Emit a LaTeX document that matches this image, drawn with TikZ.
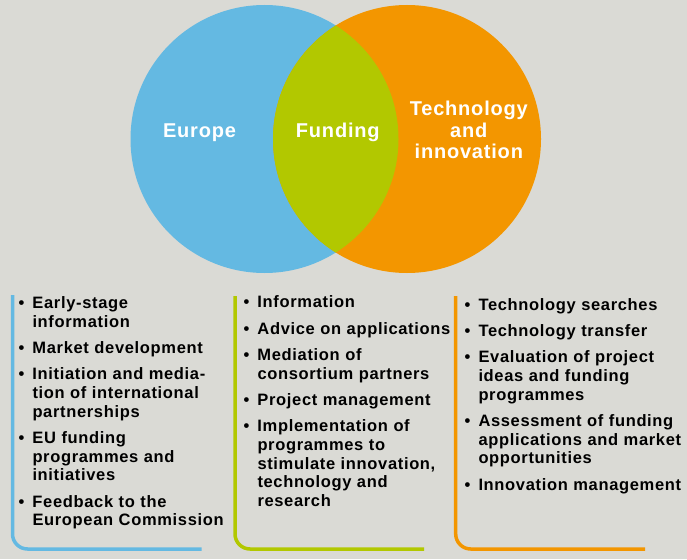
\documentclass[tikz,border=0pt]{standalone}
\usepackage{fontspec}
\setmainfont{Liberation Sans}
\usepackage{tikz}
\usetikzlibrary{positioning}

\definecolor{bgGrey}{RGB}{218,218,213}
\definecolor{euBlue}{RGB}{100,185,226}
\definecolor{techOrange}{RGB}{243,150,0}
\definecolor{fundGreen}{RGB}{178,200,0}

\newcommand{\venntitle}{\fontsize{20}{21.3}\selectfont\bfseries\addfontfeature{LetterSpace=4}}
\newcommand{\listfont}{\fontsize{16.5}{18.7}\selectfont\bfseries\addfontfeature{LetterSpace=4}\setlength{\parskip}{7.6pt}}
% first bullet starts the paragraph, the others close the previous one
\newcommand{\bstart}{\noindent\hangindent=14pt\hangafter=1\makebox[14pt][l]{\textbullet}}
\newcommand{\bitem}{\par\bstart}

\begin{document}
\begin{tikzpicture}[x=1pt,y=-1pt,
  vtitle/.style={text=white,font=\venntitle,inner sep=0pt},
  itemlist/.style={anchor=north west,inner sep=0pt,align=left,font=\listfont},
  bracket/.style={line width=3.5pt,rounded corners=15pt}]
\useasboundingbox (0,0) rectangle (687,559);
\fill[bgGrey] (0,0) rectangle (687,559);

% Venn circles
\node[circle,fill=euBlue,minimum size=268pt,inner sep=0pt] (europe) at (264.5,139) {};
\node[circle,fill=techOrange,minimum size=268pt,inner sep=0pt] (tech) at (407,139) {};
\begin{scope}
  \clip (europe.center) circle (134pt);
  \fill[fundGreen] (tech.center) circle (134pt);
\end{scope}

\node[vtitle,anchor=base] (europe_lbl) at (199.5,137.7) {Europe};
\node[vtitle,anchor=base] (fund_lbl) at (337.8,137.7) {Funding};
\node[vtitle,anchor=base,align=center] (tech_lbl) at (468.8,158.3) {Technology\\and\\innovation};

% lists
\node[itemlist,text width=215pt] (europe_list) at (18.3,295.2) {%
\bstart\strut Early-stage\newline information
\bitem Market development
\bitem Initiation and media-\newline tion of international\newline partnerships
\bitem EU funding\newline programmes and\newline initiatives
\bitem Feedback to the\newline European Commission\par};
\node[itemlist,text width=215pt] (fund_list) at (243.3,294.6) {%
\bstart\strut Information
\bitem Advice on applications
\bitem Mediation of\newline consortium partners
\bitem Project management
\bitem Implementation of\newline programmes to\newline stimulate innovation,\newline technology and\newline research\par};
\node[itemlist,text width=222pt] (tech_list) at (464.3,296.9) {%
\bstart\strut Technology searches
\bitem Technology transfer
\bitem Evaluation of project\newline ideas and funding\newline programmes
\bitem Assessment of funding\newline applications and market\newline opportunities
\bitem Innovation management\par};

% brackets
\draw[bracket,euBlue] (12.5,295) -- (12.5,549) -- (201.5,549);
\draw[bracket,fundGreen] (235,296) -- (235,549) -- (424,549);
\draw[bracket,techOrange] (455.7,296) -- (455.7,549) -- (645,549);
\end{tikzpicture}
\end{document}
